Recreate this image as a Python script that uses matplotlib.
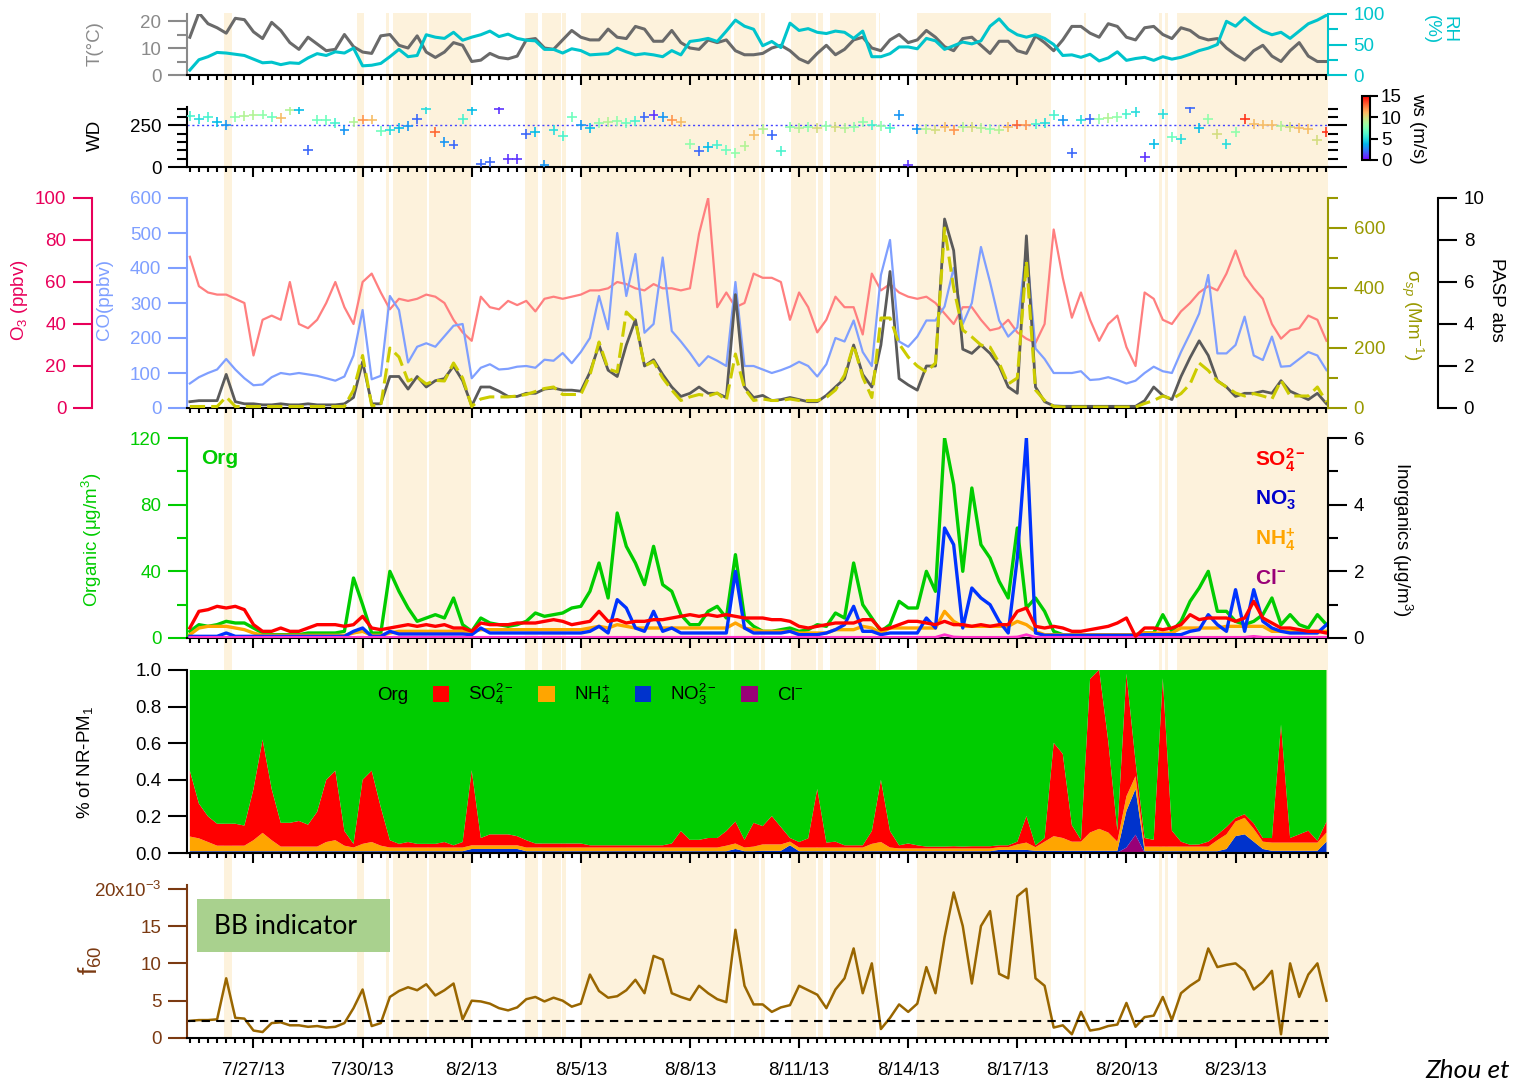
import numpy as np
import pandas as pd
import matplotlib
matplotlib.use('Agg')
import matplotlib.pyplot as plt
import matplotlib.dates as mdates
from matplotlib.patches import Patch, Rectangle
from matplotlib.ticker import MultipleLocator, FixedLocator, FuncFormatter, FormatStrFormatter

plt.rcParams['font.family'] = ['Liberation Sans', 'DejaVu Sans']
plt.rcParams['mathtext.fontset'] = 'custom'
plt.rcParams['mathtext.rm'] = 'Liberation Sans'
plt.rcParams['mathtext.it'] = 'Liberation Sans:italic'
plt.rcParams['mathtext.bf'] = 'Liberation Sans:bold'

# 6-hourly samples
times = pd.date_range('2013-07-25 06:00', periods=126, freq='6h')

temp = [14, 23, 19, 17.5, 15.5, 21, 20.5, 16, 13.5, 19.5,
        16.5, 12, 9.5, 14, 11.5, 9, 9.5, 15, 10.5, 8.5,
        8, 14.5, 15, 11, 10, 14.5, 8.5, 6.5, 8.5, 12,
        11, 5, 5.5, 8, 6.5, 6, 7, 13, 13.5, 10,
        9.5, 13, 16.5, 14, 13, 13, 17, 14, 13.5, 18,
        17, 12.5, 12.5, 16.5, 12, 10, 9.5, 13, 12, 13,
        9, 7.5, 7.5, 8, 10, 11, 9, 6, 4.5, 8,
        11, 7.5, 9.5, 13, 14, 10, 9, 13, 15, 12,
        13, 16.5, 14, 10.5, 9, 13.5, 14, 11, 8, 12.5,
        12.5, 9, 8, 14.5, 12, 9, 13, 18, 18, 15.5,
        14, 19, 18, 14, 13, 17.5, 18, 15, 13.5, 17.5,
        16.5, 14, 13, 13.5, 10, 7.5, 5.5, 9, 11, 7,
        5, 9, 12, 7, 5, 5]
rh = [8, 25, 30, 37, 36, 34, 32, 26, 20, 21,
      17, 20, 19, 28, 35, 32, 38, 36, 44, 15,
      16, 19, 30, 42, 30, 32, 66, 62, 60, 70,
      57, 62, 66, 72, 63, 67, 60, 57, 56, 42,
      42, 36, 43, 40, 33, 34, 35, 44, 38, 33,
      35, 33, 30, 40, 33, 55, 57, 60, 55, 72,
      90, 80, 75, 48, 55, 45, 85, 73, 76, 70,
      68, 72, 70, 60, 72, 30, 30, 35, 46, 46,
      43, 60, 56, 42, 48, 54, 51, 56, 80, 92,
      75, 66, 62, 66, 60, 50, 32, 33, 29, 34,
      23, 28, 38, 24, 27, 29, 24, 30, 26, 29,
      34, 40, 44, 50, 88, 80, 94, 82, 72, 66,
      70, 60, 72, 84, 90, 98]
wd = [305, 290, 300, 270, 250, 300, 305, 310, 315, 300,
      295, 340, 345, 100, 285, 280, 265, 220, 270, 285,
      285, 215, 220, 235, 245, 290, 350, 210, 150, 135,
      290, 340, 20, 30, 350, 50, 50, 200, 210, 15,
      220, 185, 300, 250, 235, 265, 270, 275, 265, 275,
      300, 310, 300, 280, 270, 140, 95, 120, 135, 100,
      85, 125, 190, 230, 190, 95, 240, 235, 240, 235,
      245, 238, 235, 240, 270, 250, 245, 235, 310, 15,
      230, 230, 225, 240, 220, 240, 240, 235, 230, 225,
      240, 255, 250, 260, 265, 310, 280, 85, 285, 290,
      290, 295, 300, 320, 330, 60, 140, 320, 180, 170,
      355, 235, 290, 200, 140, 210, 290, 260, 255, 250,
      245, 240, 235, 230, 160, 210]
ws = [6, 5, 6, 4, 3, 8, 9, 9, 8, 7,
      11, 9, 4, 2, 7, 7, 6, 3, 9, 12,
      11, 7, 5, 4, 3, 2, 5, 13, 3, 2,
      6, 4, 2, 2, 1, 1, 1, 2, 4, 3,
      5, 6, 7, 3, 4, 8, 9, 8, 7, 6,
      2, 1, 3, 12, 11, 8, 2, 4, 6, 7,
      8, 9, 11, 9, 2, 6, 8, 9, 8, 10,
      8, 10, 9, 8, 8, 6, 8, 6, 3, 1,
      3, 9, 10, 11, 12, 9, 10, 9, 8, 9,
      11, 13, 12, 6, 5, 6, 3, 2, 5, 2,
      8, 9, 8, 6, 5, 1, 4, 5, 7, 5,
      2, 4, 8, 10, 5, 8, 14, 11, 11, 11,
      9, 10, 11, 11, 10, 14]
o3 = [72, 58, 55, 54, 54, 52, 50, 25, 42, 44,
      42, 60, 40, 38, 42, 50, 60, 48, 40, 60,
      64, 55, 47, 52, 51, 52, 54, 53, 50, 42,
      36, 32, 53, 48, 47, 51, 49, 51, 46, 52,
      53, 52, 53, 54, 56, 56, 57, 60, 59, 57,
      56, 59, 57, 57, 56, 57, 83, 100, 48, 55,
      48, 50, 64, 62, 62, 60, 42, 55, 48, 36,
      42, 53, 48, 48, 35, 64, 56, 59, 55, 53,
      52, 53, 50, 45, 40, 48, 48, 42, 37, 38,
      42, 36, 33, 31, 40, 85, 62, 43, 55, 42,
      32, 40, 44, 29, 20, 55, 52, 42, 40, 46,
      50, 55, 58, 56, 64, 75, 63, 57, 52, 40,
      33, 37, 38, 44, 42, 32]
co = [70, 88, 100, 110, 140, 110, 85, 65, 67, 88,
      100, 96, 100, 96, 92, 85, 78, 90, 150, 280,
      82, 92, 320, 280, 130, 175, 185, 175, 205, 235,
      240, 85, 115, 125, 110, 112, 118, 120, 115, 138,
      135, 157, 128, 160, 200, 320, 225, 500, 320, 440,
      215, 240, 430, 220, 190, 157, 120, 148, 135, 120,
      360, 120, 120, 110, 100, 108, 118, 132, 120, 90,
      125, 200, 190, 250, 160, 120, 380, 480, 190, 175,
      204, 250, 250, 290, 400, 240, 300, 460, 360, 250,
      204, 230, 460, 170, 140, 100, 100, 100, 105, 80,
      82, 88, 80, 70, 78, 100, 118, 105, 100, 160,
      213, 270, 380, 156, 156, 180, 261, 150, 137, 204,
      118, 120, 140, 160, 150, 108]
pasp = [0.3, 0.35, 0.35, 0.35, 1.6, 0.3, 0.2, 0.2, 0.15, 0.15,
        0.2, 0.15, 0.15, 0.2, 0.15, 0.15, 0.15, 0.2, 0.5, 2.2,
        0.2, 0.2, 1.5, 1.5, 0.9, 1.5, 1.0, 1.3, 1.4, 2.0,
        1.3, 0.1, 1.0, 1.0, 0.8, 0.55, 0.55, 0.7, 0.7, 0.9,
        0.95, 0.85, 0.85, 0.8, 1.7, 3.0, 1.8, 1.5, 3.0, 4.2,
        2.0, 2.3, 1.6, 1.0, 0.55, 0.7, 1.0, 0.7, 0.7, 0.5,
        5.4, 1.0, 0.5, 0.6, 0.35, 0.4, 0.5, 0.4, 0.3, 0.3,
        0.6, 1.0, 1.4, 3.0, 1.6, 1.0, 3.0, 6.5, 1.4, 1.1,
        0.85, 2.0, 2.0, 9.0, 7.5, 2.8, 2.6, 3.0, 2.6, 2.0,
        1.0, 0.7, 8.2, 1.0, 0.3, 0.1, 0.08, 0.08, 0.08, 0.08,
        0.08, 0.08, 0.08, 0.08, 0.08, 0.35, 1.0, 0.6, 0.4, 1.5,
        2.4, 3.2, 2.5, 1.3, 1.0, 0.55, 0.7, 0.7, 0.8, 0.7,
        1.3, 0.8, 0.6, 0.4, 0.7, 0.2]
sigma_sp = [5, 5, 5, 5, 37, 5, 5, 5, 5, 5,
            5, 5, 5, 5, 5, 5, 5, 5, 60, 175,
            8, 9, 200, 170, 90, 103, 80, 92, 90, 150,
            100, 5, 30, 37, 37, 37, 40, 45, 55, 65,
            70, 45, 45, 45, 110, 220, 130, 120, 320, 290,
            140, 155, 100, 60, 25, 37, 45, 40, 50, 25,
            180, 65, 25, 30, 25, 25, 30, 25, 25, 25,
            35, 60, 110, 210, 103, 35, 300, 300, 214, 170,
            140, 120, 150, 600, 400, 260, 237, 210, 203, 150,
            80, 100, 490, 60, 25, 5, 3, 3, 3, 3,
            3, 3, 3, 3, 3, 15, 25, 40, 30, 48,
            80, 150, 125, 90, 70, 50, 40, 48, 40, 30,
            92, 40, 40, 40, 70, 20]
org = [4, 8, 7, 8, 10, 9, 9, 6, 3, 2,
       2, 2, 2, 3, 3, 3, 3, 4, 36, 20,
       3, 3, 40, 28, 18, 10, 12, 14, 12, 24,
       8, 4, 12, 9, 8, 7, 8, 10, 15, 13,
       14, 15, 18, 19, 28, 45, 24, 75, 55, 45,
       32, 55, 32, 28, 14, 8, 8, 16, 19, 12,
       50, 12, 7, 4, 4, 5, 6, 4, 5, 8,
       7, 15, 12, 45, 20, 12, 4, 8, 22, 18,
       18, 40, 28, 120, 92, 40, 90, 56, 48, 34,
       24, 66, 18, 24, 16, 4, 2, 2, 2, 2,
       2, 2, 2, 2, 2, 3, 3, 14, 4, 10,
       22, 30, 40, 16, 16, 10, 8, 10, 14, 24,
       8, 14, 8, 6, 14, 8]
so4 = [0.3, 0.8, 0.85, 0.95, 0.9, 0.95, 0.85, 0.4, 0.2, 0.2,
       0.3, 0.2, 0.2, 0.3, 0.4, 0.4, 0.4, 0.35, 0.4, 0.65,
       0.3, 0.25, 0.3, 0.35, 0.4, 0.35, 0.4, 0.35, 0.4, 0.3,
       0.3, 0.2, 0.45, 0.4, 0.4, 0.4, 0.45, 0.45, 0.45, 0.5,
       0.55, 0.5, 0.4, 0.45, 0.5, 0.8, 0.5, 0.55, 0.45, 0.5,
       0.5, 0.55, 0.55, 0.6, 0.65, 0.7, 0.65, 0.7, 0.65, 0.7,
       0.65, 0.6, 0.6, 0.6, 0.55, 0.55, 0.5, 0.35, 0.3, 0.35,
       0.4, 0.45, 0.45, 0.45, 0.55, 0.55, 0.25, 0.3, 0.4, 0.5,
       0.5, 0.45, 0.4, 0.5, 0.4, 0.4, 0.35, 0.4, 0.35, 0.4,
       0.4, 0.8, 0.9, 0.35, 0.3, 0.35, 0.3, 0.2, 0.2, 0.25,
       0.3, 0.35, 0.45, 0.6, 0.05, 0.3, 0.3, 0.25, 0.3, 0.4,
       0.7, 0.55, 0.6, 0.6, 0.6, 0.5, 0.6, 1.1, 0.6, 0.45,
       0.3, 0.3, 0.25, 0.2, 0.2, 0.15]
no3 = [0.05, 0.05, 0.05, 0.05, 0.15, 0.05, 0.05, 0.05, 0.05, 0.05,
       0.05, 0.05, 0.05, 0.05, 0.05, 0.05, 0.05, 0.05, 0.2, 0.3,
       0.05, 0.05, 0.2, 0.12, 0.12, 0.12, 0.12, 0.12, 0.12, 0.12,
       0.12, 0.1, 0.3, 0.15, 0.15, 0.15, 0.15, 0.15, 0.15, 0.15,
       0.15, 0.15, 0.15, 0.15, 0.2, 0.35, 0.15, 1.15, 0.9, 0.3,
       0.2, 0.8, 0.2, 0.3, 0.15, 0.15, 0.15, 0.15, 0.15, 0.15,
       2.0, 0.3, 0.15, 0.15, 0.15, 0.15, 0.2, 0.1, 0.1, 0.1,
       0.15, 0.25, 0.4, 0.95, 0.2, 0.2, 0.1, 0.15, 0.15, 0.15,
       0.15, 0.6, 0.3, 3.3, 2.8, 0.3, 1.5, 1.2, 1.0, 0.5,
       0.15, 2.4, 6.0, 0.15, 0.08, 0.08, 0.08, 0.08, 0.08, 0.08,
       0.08, 0.08, 0.08, 0.08, 0.08, 0.1, 0.1, 0.1, 0.1, 0.1,
       0.2, 0.25, 0.7, 0.4, 0.2, 1.45, 0.2, 1.45, 0.5, 0.3,
       0.2, 0.15, 0.15, 0.15, 0.15, 0.4]
nh4 = [0.1, 0.3, 0.35, 0.35, 0.35, 0.3, 0.25, 0.15, 0.08, 0.08,
       0.08, 0.08, 0.08, 0.08, 0.08, 0.08, 0.08, 0.08, 0.15, 0.2,
       0.08, 0.08, 0.15, 0.2, 0.2, 0.2, 0.2, 0.2, 0.2, 0.2,
       0.2, 0.2, 0.25, 0.25, 0.25, 0.25, 0.25, 0.25, 0.25, 0.25,
       0.25, 0.25, 0.25, 0.25, 0.3, 0.35, 0.3, 0.4, 0.35, 0.3,
       0.3, 0.3, 0.3, 0.3, 0.3, 0.3, 0.3, 0.3, 0.3, 0.3,
       0.45, 0.3, 0.25, 0.2, 0.2, 0.2, 0.2, 0.15, 0.15, 0.15,
       0.15, 0.25, 0.25, 0.25, 0.35, 0.3, 0.15, 0.3, 0.3, 0.3,
       0.3, 0.3, 0.3, 0.8, 0.5, 0.35, 0.35, 0.35, 0.35, 0.35,
       0.35, 0.5, 0.4, 0.2, 0.1, 0.1, 0.1, 0.1, 0.1, 0.1,
       0.1, 0.1, 0.1, 0.1, 0.1, 0.15, 0.15, 0.15, 0.15, 0.3,
       0.3, 0.3, 0.3, 0.3, 0.35, 0.35, 0.35, 0.35, 0.35, 0.2,
       0.2, 0.2, 0.2, 0.2, 0.2, 0.2]
chl = [0.02, 0.02, 0.02, 0.02, 0.02, 0.02, 0.02, 0.02, 0.02, 0.02,
       0.02, 0.02, 0.02, 0.02, 0.02, 0.02, 0.02, 0.02, 0.02, 0.02,
       0.02, 0.02, 0.02, 0.02, 0.02, 0.02, 0.02, 0.02, 0.02, 0.02,
       0.02, 0.02, 0.02, 0.02, 0.02, 0.02, 0.02, 0.02, 0.02, 0.02,
       0.02, 0.02, 0.02, 0.02, 0.02, 0.02, 0.02, 0.02, 0.02, 0.02,
       0.02, 0.02, 0.02, 0.02, 0.02, 0.02, 0.02, 0.02, 0.02, 0.02,
       0.02, 0.02, 0.02, 0.02, 0.02, 0.02, 0.02, 0.02, 0.02, 0.02,
       0.02, 0.02, 0.02, 0.02, 0.02, 0.02, 0.02, 0.02, 0.02, 0.02,
       0.02, 0.02, 0.02, 0.1, 0.03, 0.02, 0.02, 0.02, 0.02, 0.02,
       0.02, 0.03, 0.1, 0.02, 0.02, 0.02, 0.02, 0.02, 0.02, 0.02,
       0.02, 0.02, 0.02, 0.02, 0.02, 0.02, 0.02, 0.02, 0.02, 0.02,
       0.02, 0.02, 0.02, 0.02, 0.02, 0.02, 0.02, 0.05, 0.02, 0.02,
       0.02, 0.02, 0.02, 0.02, 0.02, 0.02]
# mass fractions of NR-PM1 (org is the remainder)
fr_so4 = [0.36, 0.19, 0.14, 0.12, 0.12, 0.12, 0.11, 0.28, 0.51, 0.28,
          0.13, 0.13, 0.14, 0.12, 0.19, 0.34, 0.38, 0.08, 0.02, 0.35,
          0.39, 0.21, 0.04, 0.02, 0.03, 0.02, 0.02, 0.02, 0.03, 0.012,
          0.03, 0.41, 0.04, 0.06, 0.06, 0.06, 0.05, 0.04, 0.022, 0.022,
          0.022, 0.022, 0.022, 0.022, 0.012, 0.012, 0.012, 0.012, 0.012, 0.012,
          0.012, 0.012, 0.012, 0.022, 0.09, 0.042, 0.042, 0.052, 0.052, 0.08,
          0.12, 0.042, 0.13, 0.1, 0.155, 0.095, 0.02, 0.03, 0.05, 0.32,
          0.027, 0.032, 0.012, 0.012, 0.012, 0.07, 0.34, 0.09, 0.017, 0.027,
          0.017, 0.01, 0.01, 0.01, 0.012, 0.01, 0.012, 0.012, 0.012, 0.01,
          0.01, 0.015, 0.145, 0.01, 0.02, 0.51, 0.46, 0.09, 0.01, 0.84,
          0.87, 0.5, 0.06, 0.67, 0.08, 0.047, 0.037, 0.92, 0.087, 0.027,
          0.01, 0.012, 0.027, 0.03, 0.04, 0.02, 0.02, 0.03, 0.02, 0.025,
          0.645, 0.025, 0.045, 0.065, 0.01, 0.06]
fr_nh4 = [0.08, 0.07, 0.05, 0.03, 0.03, 0.03, 0.03, 0.06, 0.1, 0.06,
          0.025, 0.025, 0.025, 0.025, 0.025, 0.05, 0.06, 0.03, 0.02, 0.04,
          0.05, 0.03, 0.02, 0.02, 0.02, 0.02, 0.02, 0.02, 0.02, 0.02,
          0.02, 0.02, 0.02, 0.02, 0.02, 0.02, 0.02, 0.02, 0.02, 0.02,
          0.02, 0.02, 0.02, 0.02, 0.02, 0.02, 0.02, 0.02, 0.02, 0.02,
          0.02, 0.02, 0.02, 0.02, 0.02, 0.02, 0.02, 0.02, 0.02, 0.03,
          0.03, 0.02, 0.025, 0.035, 0.035, 0.035, 0.02, 0.02, 0.02, 0.02,
          0.02, 0.02, 0.02, 0.02, 0.02, 0.04, 0.05, 0.02, 0.015, 0.015,
          0.015, 0.015, 0.015, 0.015, 0.015, 0.015, 0.015, 0.015, 0.015, 0.015,
          0.015, 0.03, 0.04, 0.02, 0.05, 0.08, 0.07, 0.05, 0.05, 0.1,
          0.12, 0.1, 0.05, 0.08, 0.07, 0.025, 0.025, 0.025, 0.025, 0.025,
          0.025, 0.025, 0.025, 0.06, 0.08, 0.08, 0.09, 0.07, 0.04, 0.045,
          0.045, 0.045, 0.045, 0.045, 0.045, 0.05]
fr_no3 = [0.008, 0.008, 0.008, 0.008, 0.008, 0.008, 0.008, 0.008, 0.008, 0.008,
          0.008, 0.008, 0.008, 0.008, 0.008, 0.008, 0.008, 0.008, 0.008, 0.008,
          0.008, 0.008, 0.008, 0.008, 0.008, 0.008, 0.008, 0.008, 0.008, 0.008,
          0.008, 0.02, 0.02, 0.02, 0.02, 0.02, 0.02, 0.008, 0.008, 0.008,
          0.008, 0.008, 0.008, 0.008, 0.008, 0.008, 0.008, 0.008, 0.008, 0.008,
          0.008, 0.008, 0.008, 0.008, 0.008, 0.008, 0.008, 0.008, 0.008, 0.008,
          0.02, 0.008, 0.008, 0.01, 0.01, 0.01, 0.04, 0.008, 0.008, 0.008,
          0.008, 0.008, 0.008, 0.008, 0.008, 0.008, 0.008, 0.008, 0.008, 0.008,
          0.008, 0.008, 0.008, 0.008, 0.008, 0.008, 0.008, 0.008, 0.008, 0.015,
          0.015, 0.015, 0.015, 0.01, 0.01, 0.01, 0.01, 0.01, 0.01, 0.01,
          0.01, 0.01, 0.01, 0.2, 0.25, 0.008, 0.008, 0.008, 0.008, 0.008,
          0.008, 0.008, 0.008, 0.008, 0.02, 0.09, 0.1, 0.06, 0.02, 0.01,
          0.01, 0.01, 0.01, 0.01, 0.01, 0.06]
fr_chl = [0.002, 0.002, 0.002, 0.002, 0.002, 0.002, 0.002, 0.002, 0.002, 0.002,
          0.002, 0.002, 0.002, 0.002, 0.002, 0.002, 0.002, 0.002, 0.002, 0.002,
          0.002, 0.002, 0.002, 0.002, 0.002, 0.002, 0.002, 0.002, 0.002, 0.002,
          0.002, 0.002, 0.002, 0.002, 0.002, 0.002, 0.002, 0.002, 0.002, 0.002,
          0.002, 0.002, 0.002, 0.002, 0.002, 0.002, 0.002, 0.002, 0.002, 0.002,
          0.002, 0.002, 0.002, 0.002, 0.002, 0.002, 0.002, 0.002, 0.002, 0.002,
          0.002, 0.002, 0.002, 0.002, 0.002, 0.002, 0.002, 0.002, 0.002, 0.002,
          0.002, 0.002, 0.002, 0.002, 0.002, 0.002, 0.002, 0.002, 0.002, 0.002,
          0.002, 0.002, 0.002, 0.002, 0.002, 0.002, 0.002, 0.002, 0.002, 0.002,
          0.002, 0.002, 0.002, 0.002, 0.002, 0.002, 0.002, 0.002, 0.002, 0.002,
          0.002, 0.002, 0.002, 0.03, 0.1, 0.002, 0.002, 0.002, 0.002, 0.002,
          0.002, 0.002, 0.002, 0.002, 0.002, 0.002, 0.002, 0.002, 0.002, 0.002,
          0.002, 0.002, 0.002, 0.002, 0.002, 0.002]
f60 = [2.3, 2.4, 2.4, 2.5, 8.0, 2.7, 2.6, 1.0, 0.8, 2.0,
       2.1, 1.7, 1.7, 1.5, 1.6, 1.4, 1.5, 2.0, 4.0, 6.5,
       1.6, 2.0, 5.5, 6.3, 6.8, 6.4, 7.2, 5.7, 6.4, 7.3,
       2.5, 5.0, 4.9, 4.6, 4.0, 3.7, 4.1, 5.2, 5.5, 4.9,
       5.4, 5.0, 4.2, 4.6, 8.5, 6.3, 5.4, 5.6, 6.4, 7.8,
       6.0, 11.0, 10.5, 6.0, 5.5, 5.1, 7.0, 6.0, 5.2, 4.8,
       14.5, 7.0, 4.5, 4.5, 3.5, 4.1, 4.4, 7.0, 6.4, 5.8,
       4.0, 6.5, 8.0, 12.0, 6.0, 10.0, 1.2, 2.7, 4.5, 3.5,
       4.6, 9.5, 6.0, 13.5, 19.5, 15.0, 7.3, 15.0, 17.0, 8.6,
       8.0, 19.0, 20.0, 8.0, 7.0, 1.4, 1.7, 0.5, 3.5, 1.0,
       1.2, 1.6, 1.8, 4.7, 1.5, 2.8, 3.0, 5.5, 2.4, 6.0,
       7.0, 7.8, 12.0, 9.5, 9.8, 10.0, 9.0, 6.5, 7.5, 9.0,
       0.5, 10.0, 5.5, 8.5, 10.0, 5.0]
f60_bg = 2.3  # x1e-3, background level

# shaded (beige) periods
spans = [('2013-07-26 04:30', '2013-07-26 09:50'), ('2013-07-29 20:20', '2013-07-30 01:00'),
         ('2013-07-30 15:30', '2013-07-30 17:30'), ('2013-07-30 20:00', '2013-07-31 18:30'),
         ('2013-07-31 19:50', '2013-08-01 23:30'), ('2013-08-03 11:10', '2013-08-03 19:40'),
         ('2013-08-03 22:20', '2013-08-04 10:50'), ('2013-08-04 11:30', '2013-08-04 14:10'),
         ('2013-08-05 00:10', '2013-08-09 03:00'), ('2013-08-09 05:00', '2013-08-09 21:30'),
         ('2013-08-09 23:00', '2013-08-10 01:30'), ('2013-08-10 18:40', '2013-08-11 11:10'),
         ('2013-08-11 12:30', '2013-08-11 15:50'), ('2013-08-11 20:30', '2013-08-13 02:50'),
         ('2013-08-13 04:40', '2013-08-13 05:30'), ('2013-08-14 05:50', '2013-08-17 22:15'),
         ('2013-08-18 20:00', '2013-08-18 21:20'), ('2013-08-20 21:30', '2013-08-20 23:30'),
         ('2013-08-21 01:30', '2013-08-21 03:30'), ('2013-08-21 09:20', '2013-08-25 14:00')]

x_start = pd.Timestamp('2013-07-25 04:08')
x_end = pd.Timestamp('2013-08-25 13:00')
major_days = pd.date_range('2013-07-27', '2013-08-23', freq='3D')
minor_ticks = pd.date_range('2013-07-25 06:00', '2013-08-25 12:00', freq='6h')

FS = 13.5
W_PX, H_PX = 1513, 1080
fig = plt.figure(figsize=(W_PX / 100, H_PX / 100), dpi=100)


def box(top, bottom, left=187, right=1328):
    return [left / W_PX, 1 - bottom / H_PX, (right - left) / W_PX, (bottom - top) / H_PX]


def date_label(v, pos):
    d = mdates.num2date(v)
    return f'{d.month}/{d.day}/{d:%y}'


def base(ax, labels=False):
    ax.set_xlim(x_start, x_end)
    ax.patch.set_visible(False)
    for s in ['top', 'right', 'left']:
        ax.spines[s].set_visible(False)
    ax.spines['bottom'].set_linewidth(1.5)
    ax.xaxis.set_major_locator(FixedLocator(mdates.date2num(major_days.to_pydatetime())))
    ax.xaxis.set_minor_locator(FixedLocator(mdates.date2num(minor_ticks.to_pydatetime())))
    ax.xaxis.set_major_formatter(FuncFormatter(date_label))
    ax.tick_params(axis='x', which='major', length=7, width=1.5, labelsize=FS, pad=10)
    ax.tick_params(axis='x', which='minor', length=3.5, width=1.5)
    ax.tick_params(axis='x', labelbottom=labels)


def yaxis(ax, side, color, lim, major, minor=None):
    if side != 'left' or ax.spines['right'].get_visible():
        for s in ['top', 'right', 'left', 'bottom']:
            if s != side:
                ax.spines[s].set_visible(False)
    sp = ax.spines[side]
    sp.set_visible(True)
    sp.set_color(color)
    sp.set_linewidth(1.5)
    ax.set_ylim(*lim)
    ax.yaxis.set_major_locator(MultipleLocator(major))
    if minor:
        ax.yaxis.set_minor_locator(MultipleLocator(minor))
    ax.yaxis.set_ticks_position(side)
    ax.tick_params(axis='y', which='both', direction='out', colors=color, width=1.5,
                   labelsize=FS, pad=5)
    ax.tick_params(axis='y', which='major', length=13.5)
    ax.tick_params(axis='y', which='minor', length=7)


def twin(ax):
    t = ax.twinx()
    t.patch.set_visible(False)
    for s in t.spines.values():
        s.set_visible(False)
    return t


# background shading
ax_bg = fig.add_axes(box(13, 1038))
ax_bg.set_xlim(x_start, x_end)
ax_bg.set_ylim(0, 1)
ax_bg.axis('off')
for s, e in spans:
    ax_bg.axvspan(pd.Timestamp(s), pd.Timestamp(e), color='#fdf2dc', lw=0)
ax_bg.set_zorder(-1)

# --- T / RH
ax1 = fig.add_axes(box(14, 75))
base(ax1)
ax1.plot(times, temp, color='#6a6a6a', lw=2.2)
yaxis(ax1, 'left', '#8a8a8a', (0, 22.6), 10, 5)
ax1r = twin(ax1)
ax1r.plot(times, rh, color='#00c4cc', lw=2.2)
yaxis(ax1r, 'right', '#00c4cc', (0, 100), 50, 25)
fig.text(95 / W_PX, 1 - 44 / H_PX, 'T(°C)', color='#8a8a8a', fontsize=FS, rotation=90,
         ha='center', va='center')
fig.text(1440 / W_PX, 1 - 30 / H_PX, 'RH\n(%)', color='#00c4cc', fontsize=FS, rotation=-90,
         ha='center', va='center', linespacing=1.0)

# --- wind direction, coloured by wind speed
ax2 = fig.add_axes(box(107, 167))
base(ax2)
ax2.axhline(250, color='#4444ff', ls=(0, (1.5, 2)), lw=1)
sc = ax2.scatter(times, wd, c=ws, cmap='rainbow', vmin=0, vmax=15, marker='+', s=50,
                 linewidths=1.2, zorder=3)
yaxis(ax2, 'left', 'black', (0, 360), 250, 50)
ax2.yaxis.set_major_locator(FixedLocator([0, 250]))
ax2.tick_params(axis='y', which='both', right=True)
fig.text(95 / W_PX, 1 - 135 / H_PX, 'WD', color='black', fontsize=FS, rotation=90,
         ha='center', va='center')
cax = fig.add_axes(box(96, 160, 1362, 1370))
cb = fig.colorbar(sc, cax=cax, ticks=[0, 5, 10, 15])
cb.ax.tick_params(labelsize=FS, length=6, width=1.5, pad=2)
cb.outline.set_linewidth(1.5)
fig.text(1418 / W_PX, 1 - 128 / H_PX, 'ws (m/s)', fontsize=FS, rotation=-90,
         ha='center', va='center')

# --- gases and optics
ax3 = fig.add_axes(box(198, 408))
base(ax3)
ax3.set_zorder(0.2)
ax3.plot(times, co, color='#7f9fff', lw=1.6)
yaxis(ax3, 'left', '#7f9fff', (0, 600), 100)
ax3.spines['bottom'].set_visible(True)

ax_o3 = twin(ax3)
ax_o3.set_zorder(0.1)
ax_o3.plot(times, o3, color='#ff7f7f', lw=1.6)
ax_o3.spines['left'].set_position(('axes', (92 - 187) / 1141))
yaxis(ax_o3, 'left', '#e8005a', (0, 100), 20)
ax_o3.yaxis.set_label_position('left')

ax_pasp = twin(ax3)
ax_pasp.set_zorder(0.3)
ax_pasp.plot(times, pasp, color='#5a5a5a', lw=2)
ax_pasp.spines['right'].set_position(('axes', (1438 - 187) / 1141))
yaxis(ax_pasp, 'right', 'black', (0, 10), 2)

ax_sig = twin(ax3)
ax_sig.set_zorder(0.4)
ax_sig.plot(times, sigma_sp, color='#cccc00', lw=2.2, ls=(0, (5, 2)))
yaxis(ax_sig, 'right', '#999900', (0, 700), 200, 100)

fig.text(20 / W_PX, 1 - 300 / H_PX, 'O$_3$ (ppbv)', color='#e8005a', fontsize=FS,
         rotation=90, ha='center', va='center')
fig.text(105 / W_PX, 1 - 300 / H_PX, 'CO(ppbv)', color='#7f9fff', fontsize=FS,
         rotation=90, ha='center', va='center')
fig.text(1412 / W_PX, 1 - 315 / H_PX, 'σ$_{sp}$ (Mm$^{-1}$)', color='#999900', fontsize=FS,
         rotation=-90, ha='center', va='center')
fig.text(1497 / W_PX, 1 - 300 / H_PX, 'PASP abs', color='black', fontsize=FS,
         rotation=-90, ha='center', va='center')

# --- aerosol composition
ax4 = fig.add_axes(box(438, 638))
base(ax4)
ax4.plot(times, org, color='#00cc00', lw=2.4)
yaxis(ax4, 'left', '#00cc00', (0, 120), 40, 20)
ax4.spines['bottom'].set_color('black')
ax4r = twin(ax4)
ax4r.plot(times, nh4, color='#ffa500', lw=2.4)
ax4r.plot(times, no3, color='#0033ff', lw=2.4)
ax4r.plot(times, chl, color='#ff33cc', lw=2.0)
ax4r.plot(times, so4, color='#ff0000', lw=2.4)
yaxis(ax4r, 'right', 'black', (0, 6), 2, 1)
fig.text(92 / W_PX, 1 - 540 / H_PX, 'Organic (μg/m$^3$)', color='#00cc00', fontsize=FS,
         rotation=90, ha='center', va='center')
fig.text(1402 / W_PX, 1 - 540 / H_PX, 'Inorganics (μg/m$^3$)', color='black', fontsize=FS,
         rotation=-90, ha='center', va='center')
fig.text(201 / W_PX, 1 - 458 / H_PX, 'Org', color='#00cc00', fontsize=15, fontweight='bold',
         ha='left', va='center')
for txt, col, ypx in [(r'$\mathbf{SO_4^{2-}}$', '#ff0000', 460),
                      (r'$\mathbf{NO_3^{-}}$', '#0000cc', 500),
                      (r'$\mathbf{NH_4^{+}}$', '#ffa500', 540),
                      (r'$\mathbf{Cl^{-}}$', '#990077', 578)]:
    fig.text(1255 / W_PX, 1 - ypx / H_PX, txt, color=col, fontsize=15, ha='left', va='center')

# --- mass fractions
ax5 = fig.add_axes(box(670, 853))
base(ax5)
fr_org = 1 - (np.array(fr_so4) + np.array(fr_nh4) + np.array(fr_no3) + np.array(fr_chl))
fcols = ['#990077', '#0033cc', '#ffa500', '#ff0000', '#00cc00']
ax5.stackplot(times, fr_chl, fr_no3, fr_nh4, fr_so4, np.clip(fr_org, 0, 1), colors=fcols, lw=0)
yaxis(ax5, 'left', 'black', (0, 1), 0.2)
ax5.yaxis.set_major_formatter(FormatStrFormatter('%.1f'))
fig.text(85 / W_PX, 1 - 762 / H_PX, '% of NR-PM$_1$', color='black', fontsize=FS,
         rotation=90, ha='center', va='center')
handles = [Patch(facecolor=c, edgecolor='none') for c in fcols[::-1]]
ax5.legend(handles, ['Org', 'SO$_4^{2-}$', 'NH$_4^{+}$', 'NO$_3^{2-}$', 'Cl$^{-}$'],
           ncol=5, frameon=False, fontsize=FS, loc='upper left',
           bbox_to_anchor=(332 / W_PX, 1 - 673 / H_PX), bbox_transform=fig.transFigure,
           handlelength=0.9, handleheight=0.9, handletextpad=1.0, columnspacing=1.3,
           borderpad=0)

# --- f60 biomass burning tracer
ax6 = fig.add_axes(box(885, 1038))
base(ax6, labels=True)
ax6.plot(times, np.array(f60) * 1e-3, color='#996600', lw=1.8)
ax6.axhline(f60_bg * 1e-3, color='black', ls=(0, (4, 3)), lw=1.5)
yaxis(ax6, 'left', '#7b3a12', (0, 0.0205), 0.005)
ax6.yaxis.set_major_locator(FixedLocator([0, 0.005, 0.01, 0.015, 0.02]))
ax6.yaxis.set_major_formatter(FuncFormatter(
    lambda v, p: ['0', '5', '10', '15', '20x10$^{-3}$'][int(round(v / 0.005))]))
ax6.spines['bottom'].set_color('black')
fig.text(90 / W_PX, 1 - 960 / H_PX, 'f$_{60}$', color='#7b3a12', fontsize=19,
         rotation=90, ha='center', va='center')

fig.patches.append(Rectangle((197 / W_PX, 1 - 952 / H_PX), (390 - 197) / W_PX, 53 / H_PX,
                             transform=fig.transFigure, facecolor='#a9d18e',
                             edgecolor='none', zorder=5))
fig.text(214 / W_PX, 1 - 926 / H_PX, 'BB indicator', fontsize=19, family='Lato',
         ha='left', va='center', zorder=6)
fig.text(1425 / W_PX, 1 - 1070 / H_PX, 'Zhou et', fontsize=19, family='Lato',
         style='italic', ha='left', va='center')

fig.savefig('out.png', dpi=100)
